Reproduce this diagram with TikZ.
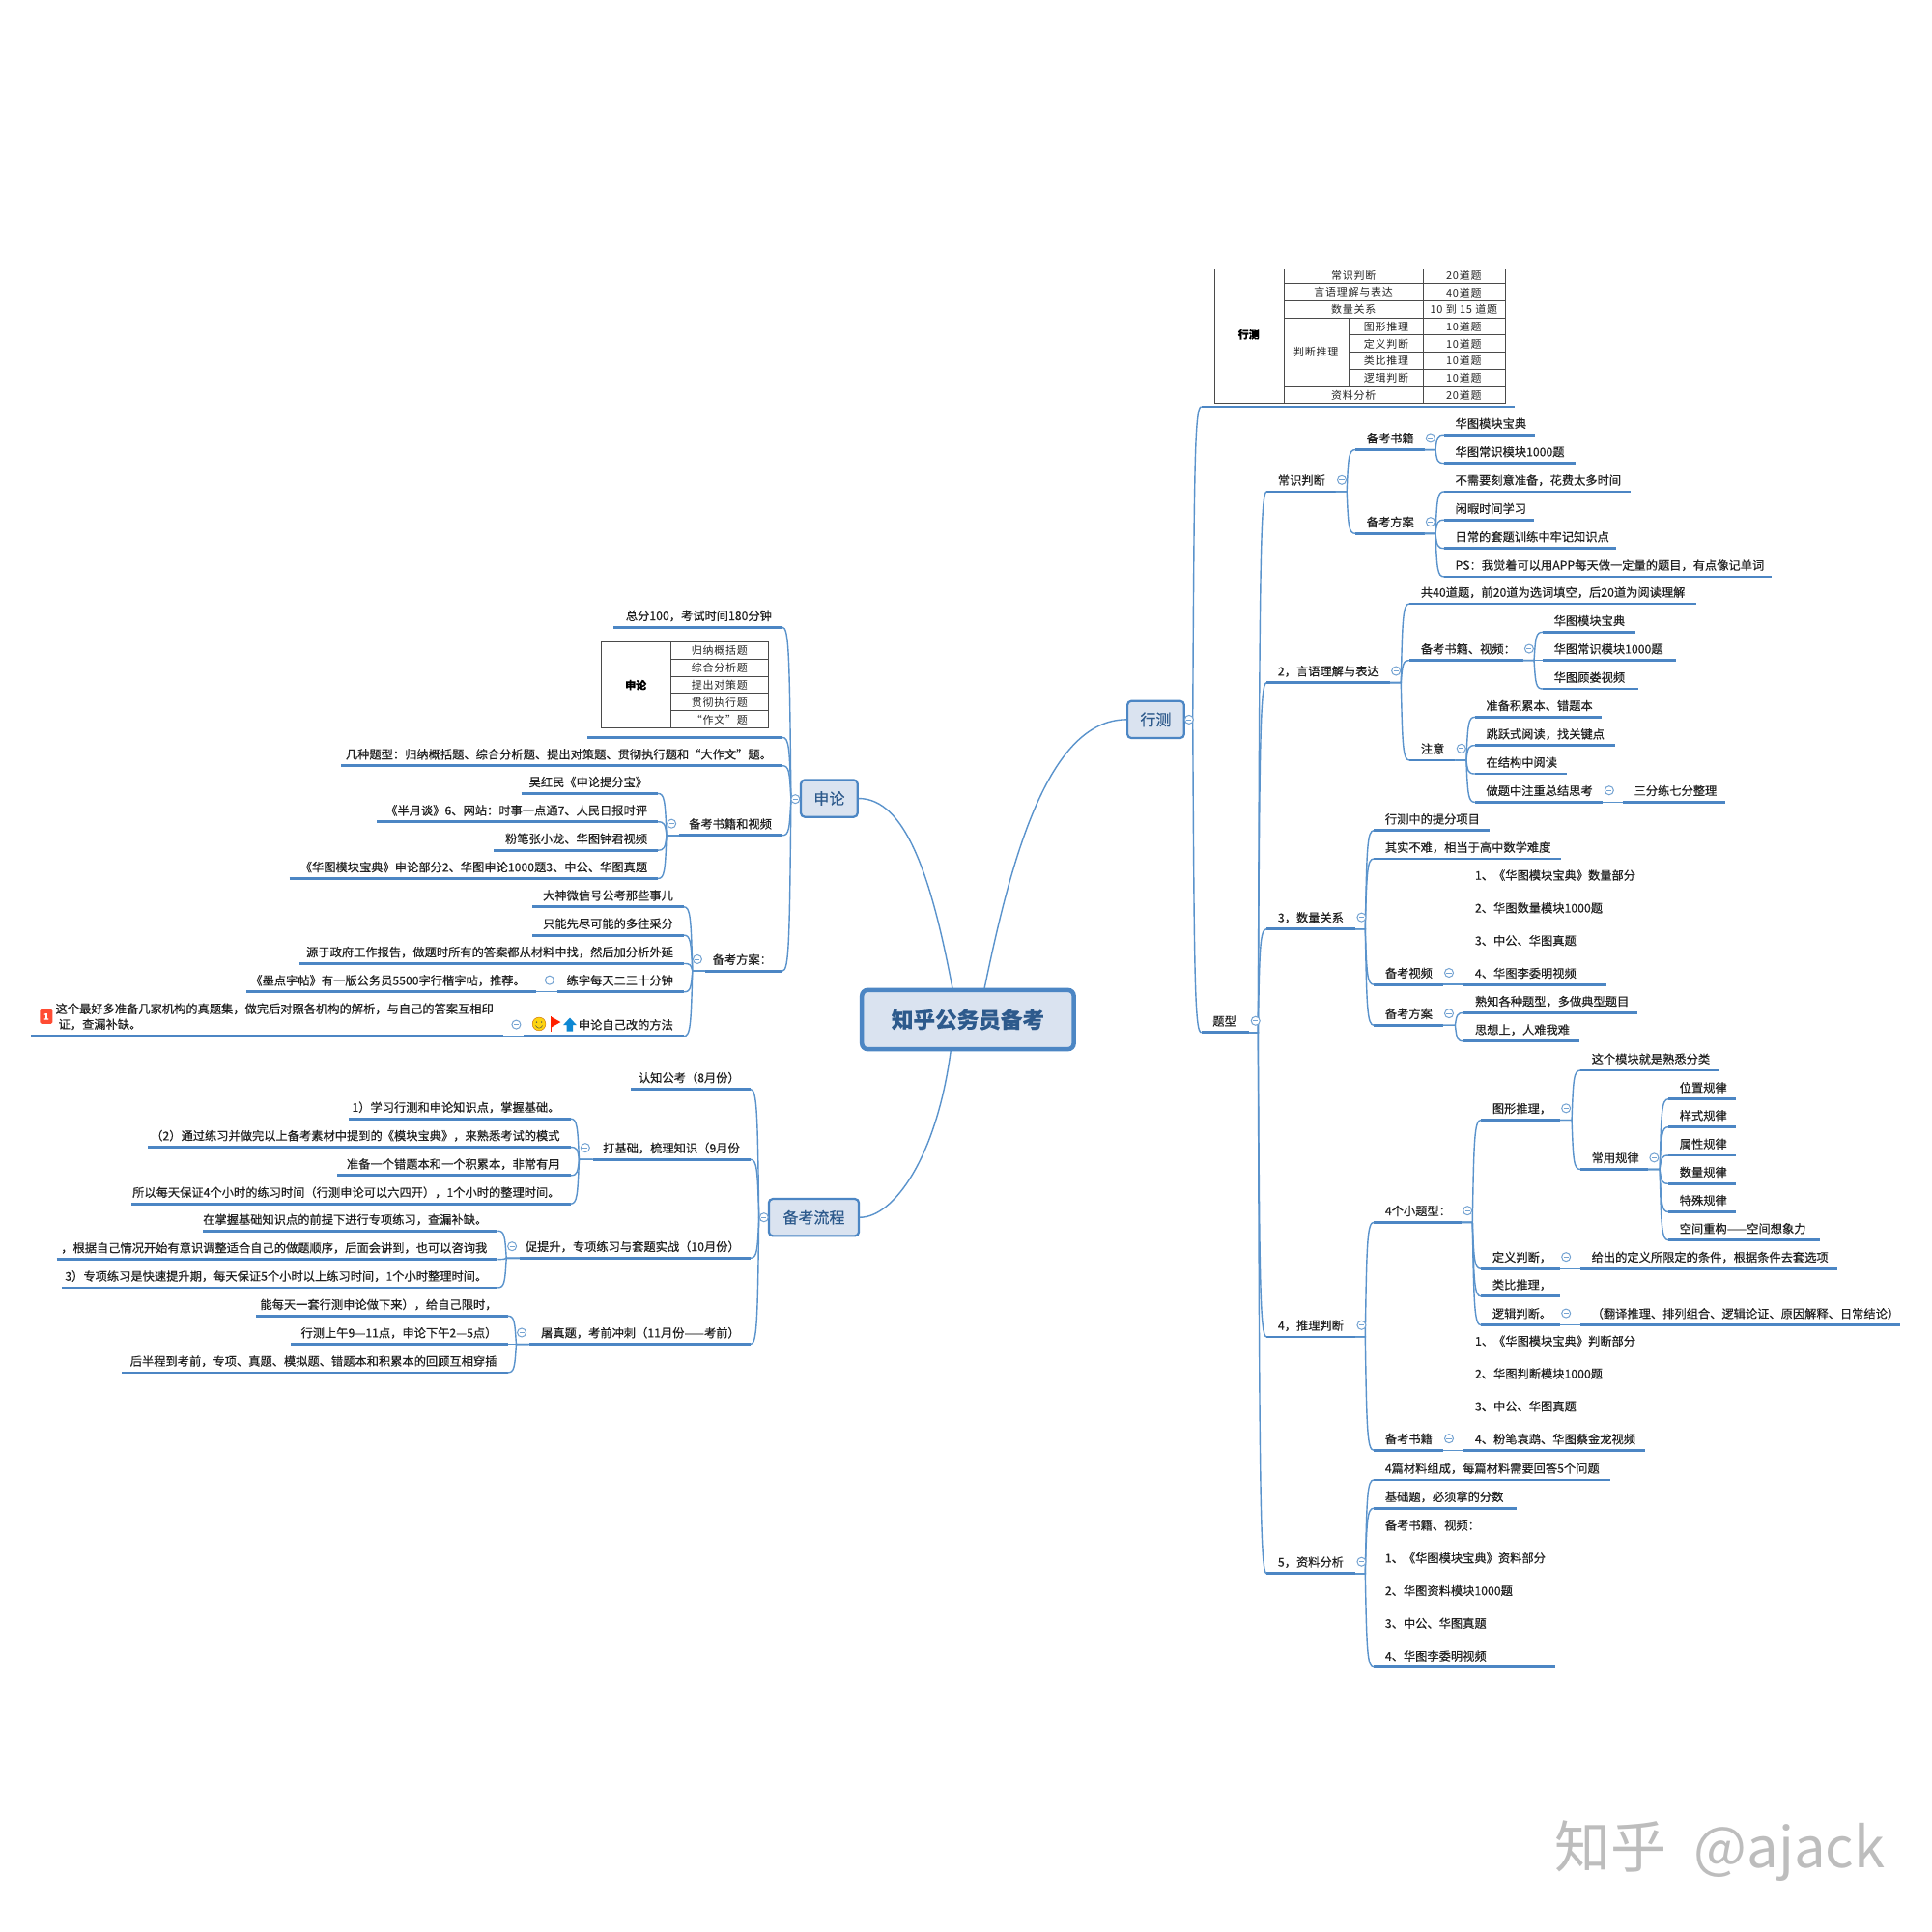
\documentclass[tikz,border=0pt]{standalone}
\usepackage{fontspec}
\setmainfont{Noto Sans CJK SC}[RawFeature={embolden=0.35}]
\newfontfamily\tblfont[LetterSpace=7]{Noto Sans CJK SC}
\newfontfamily\markfont{Noto Sans CJK SC}
\usetikzlibrary{calc}
\definecolor{lineblue}{HTML}{4C86C4}
\definecolor{thinblue}{HTML}{5A93CC}
\definecolor{markblue}{HTML}{74A3D2}
\definecolor{boxfill}{HTML}{DAE3F0}
\definecolor{boxtext}{HTML}{2D5A8C}
\definecolor{inktext}{HTML}{222222}
\definecolor{tblline}{HTML}{4A4A4A}
\definecolor{markgray}{HTML}{BDBDBD}
\tikzset{
  x=1.27551pt,y=-1.27551pt,
  under/.style={draw=lineblue,line width=2.8pt},
  conn/.style={draw=thinblue,line width=1.4pt},
  lbl/.style={inner sep=0pt,text=inktext,font=\fontsize{12.25}{14}\selectfont,text height=10pt,text depth=2.5pt},
  mlbl/.style={inner sep=0pt,text=inktext,font=\fontsize{12.25}{33.8}\selectfont,align=left},
  tcell/.style={inner sep=0pt,text=black!85,font=\tblfont\fontsize{11}{13}\selectfont},
  tbold/.style={inner sep=0pt,text=black,font=\fontsize{11}{13}\selectfont\bfseries},
  tline/.style={draw=tblline,line width=1pt},
  mainbox/.style={draw=lineblue,fill=boxfill,text=boxtext,inner sep=0pt,line width=2.2pt,rounded corners=4pt,font=\fontsize{16}{18}\selectfont},
  rootbox/.style={draw=lineblue,fill=boxfill,text=boxtext,inner sep=0pt,line width=4.5pt,rounded corners=6pt,font=\fontsize{22.6}{26}\selectfont\bfseries},
  collapse/.style={circle,draw=markblue,fill=white,line width=1pt,minimum size=9pt,inner sep=0pt},
}
\newcount\circcnt
\newcommand{\Ut}[4]{\coordinate (#1-a) at (#2,#4);\coordinate (#1-b) at (#3,#4);\draw[under] (#1-a) -- (#1-b);}
\newcommand{\Rt}[5]{\Ut{#1}{#2}{#3}{#4}\node[lbl,anchor=west] (#1) at ({#2+9},{#4-8.6}) {#5};}
\newcommand{\Lt}[5]{\Ut{#1}{#2}{#3}{#4}\node[lbl,anchor=east] (#1) at ({#3-8.5},{#4-8.6}) {#5};}
\newcommand{\Rm}[5]{\Ut{#1}{#2}{#3}{#4}\node[mlbl,anchor=south west] (#1) at ({#2+9},{#4-4.5}) {#5};}
\newcommand{\Cgl}[1]{\global\advance\circcnt by 1
  \node[collapse] (circ\the\circcnt) at (#1) {};
  \draw[markblue,line width=0.8pt] ($(circ\the\circcnt.center)+(-2,0)$) -- ($(circ\the\circcnt.center)+(2,0)$);}
\newcommand{\Cir}[1]{\Cgl{$(#1-b)+(5,-9.5)$}}
\newcommand{\Cil}[1]{\Cgl{$(#1-a)+(-6,-9.5)$}}
\newcommand{\Cr}[2]{\draw[conn] let \p1=(#1-b),\p2=(#2-a) in (\p1) -- (\x2-8.9pt,\y1) .. controls ({\x2-7.4pt},{\y1+0.82*(\y2-\y1)}) and ({\x2-6.9pt},\y2) .. (\p2);}
\newcommand{\Cl}[2]{\draw[conn] let \p1=(#1-a),\p2=(#2-b) in (\p1) -- (\x2+8.9pt,\y1) .. controls ({\x2+7.4pt},{\y1+0.82*(\y2-\y1)}) and ({\x2+6.9pt},\y2) .. (\p2);}
\newcommand{\MBox}[6]{\node[mainbox,minimum width={(#4-#2)*1.27551pt},minimum height={(#5-#3)*1.27551pt}] (#1) at ({(#2+#4)/2},{(#3+#5)/2}) {#6};
  \coordinate (#1-a) at (#1.west);\coordinate (#1-b) at (#1.east);}
\begin{document}
\begin{tikzpicture}
\useasboundingbox (0,0) rectangle (1568,1568);
\fill[white] (0,0) rectangle (1568,1568);

% ---- boxes
\node[rootbox,minimum width={172*1.27551pt},minimum height={48*1.27551pt}] (root) at (785.5,827.5) {知乎公务员备考};
\MBox{xc}{915}{569}{961}{599}{行测}
\MBox{sl}{650}{633}{696}{663}{申论}
\MBox{lc}{624}{973}{697}{1003}{备考流程}
\coordinate (rtA) at (773,802);
\coordinate (rtB) at (799,802);
\coordinate (rtC) at (771.6,853);
\draw[conn] (rtA) .. controls (756,712) and (735,648) .. (sl.east);
\draw[conn] (rtB) .. controls (820,700) and (850,584) .. (xc.west);
\draw[conn] (rtC) .. controls (760,940) and (725,988) .. (lc.east);

% ---- xingce table
\draw[tline] (985.7,218) -- (985.7,327.7) -- (1221.6,327.7) -- (1221.6,218);
\draw[tline] (1042,218) -- (1042,327.7);
\draw[tline] (1155,218) -- (1155,327.7);
\draw[tline] (1094.6,258) -- (1094.6,313.8);
\foreach \yy in {230.4,244.4,258,313.8} {\draw[tline] (1042,\yy) -- (1221.6,\yy);}
\foreach \yy in {272,286,299.7} {\draw[tline] (1094.6,\yy) -- (1221.6,\yy);}
\node[tbold] (tbA) at (1013.5,271.5) {行测};
\node[tcell] (tbB) at (1098.5,224) {常识判断};
\node[tcell] (tbC) at (1098.5,237.4) {言语理解与表达};
\node[tcell] (tbD) at (1098.5,251) {数量关系};
\node[tcell] (tbE) at (1068,286) {判断推理};
\node[tcell] (tbF) at (1125,265) {图形推理};
\node[tcell] (tbG) at (1125,279) {定义判断};
\node[tcell] (tbH) at (1125,293) {类比推理};
\node[tcell] (tbI) at (1125,306.7) {逻辑判断};
\node[tcell] (tbJ) at (1098.5,320.7) {资料分析};
\node[tcell] (tbK) at (1188,224) {20道题};
\node[tcell] (tbL) at (1188,237.4) {40道题};
\node[tcell] (tbM) at (1188,251) {10 到 15 道题};
\node[tcell] (tbN) at (1188,265) {10道题};
\node[tcell] (tbO) at (1188,279) {10道题};
\node[tcell] (tbP) at (1188,293) {10道题};
\node[tcell] (tbQ) at (1188,306.7) {10道题};
\node[tcell] (tbR) at (1188,320.7) {20道题};

% ---- shenlun table
\draw[tline] (488,520.8) rectangle (623.5,591);
\draw[tline] (544.6,520.8) -- (544.6,591);
\foreach \yy in {535,549,562.7,577} {\draw[tline] (544.6,\yy) -- (623.5,\yy);}
\node[tbold] (stA) at (516,556) {申论};
\node[tcell] (stB) at (584,528) {归纳概括题};
\node[tcell] (stC) at (584,542) {综合分析题};
\node[tcell] (stD) at (584,556) {提出对策题};
\node[tcell] (stE) at (584,570) {贯彻执行题};
\node[tcell] (stF) at (584,584) {“作文”题};

% ---- xingce branch
\Ut{tb}{975}{1229}{330}
\Rt{tx}{975}{1014}{838}{题型}
\Rt{aA}{1028}{1084}{399}{常识判断}
\Rt{aAa}{1100}{1156}{365}{备考书籍}
\Rt{aAb}{1100}{1156}{433}{备考方案}
\Rt{aAa1}{1172}{1246}{353}{华图模块宝典}
\Rt{aAa2}{1172}{1279}{376}{华图常识模块1000题}
\Rt{aAb1}{1172}{1323}{399}{不需要刻意准备，花费太多时间}
\Rt{aAb2}{1172}{1245}{422}{闲暇时间学习}
\Rt{aAb3}{1172}{1312}{445}{日常的套题训练中牢记知识点}
\Rt{aAb4}{1172}{1438}{468}{PS：我觉着可以用APP每天做一定量的题目，有点像记单词}

\Rt{aB}{1028}{1128}{554}{2，言语理解与表达}
\Rt{aBa}{1144}{1377}{490}{共40道题，前20道为选词填空，后20道为阅读理解}
\Rt{aBb}{1144}{1236}{536}{备考书籍、视频：}
\Rt{aBc}{1144}{1181}{617}{注意}
\Rt{aBb1}{1252}{1327}{513}{华图模块宝典}
\Rt{aBb2}{1252}{1360}{536}{华图常识模块1000题}
\Rt{aBb3}{1252}{1330}{559}{华图顾娄视频}
\Rt{aBc1}{1197}{1300}{582}{准备积累本、错题本}
\Rt{aBc2}{1197}{1311}{605}{跳跃式阅读，找关键点}
\Rt{aBc3}{1197}{1272}{628}{在结构中阅读}
\Rt{aBc4}{1197}{1301}{651}{做题中注重总结思考}
\Rt{aBc5}{1317}{1400}{651}{三分练七分整理}

\Rt{aC}{1028}{1100}{754}{3，数量关系}
\Rt{aCa}{1115}{1209}{674}{行测中的提分项目}
\Rt{aCb}{1115}{1267}{697}{其实不难，相当于高中数学难度}
\Rt{aCc}{1115}{1171}{799}{备考视频}
\Rm{aCc1}{1188}{1304}{799}{1、《华图模块宝典》数量部分\\2、华图数量模块1000题\\3、中公、华图真题\\4、华图李委明视频}
\Rt{aCd}{1115}{1171}{832}{备考方案}
\Rt{aCd1}{1188}{1329}{822}{熟知各种题型，多做典型题目}
\Rt{aCd2}{1188}{1282}{845}{思想上，人难我难}

\Rt{aD}{1028}{1100}{1085}{4，推理判断}
\Rt{aDa}{1115}{1186}{992}{4个小题型：}
\Rt{aDb}{1115}{1171}{1177}{备考书籍}
\Rm{aDb1}{1188}{1335}{1177}{1、《华图模块宝典》判断部分\\2、华图判断模块1000题\\3、中公、华图真题\\4、粉笔袁鹉、华图蔡金龙视频}
\Rt{aDa1}{1202}{1266}{909}{图形推理，}
\Rt{aDa2}{1202}{1266}{1029.6}{定义判断，}
\Rt{aDa3}{1202}{1266}{1052}{类比推理，}
\Rt{aDa4}{1202}{1266}{1075.4}{逻辑判断。}
\Rt{aDp1}{1282.6}{1395.5}{868.7}{这个模块就是熟悉分类}
\Rt{aDp2}{1282.6}{1337.5}{949}{常用规律}
\Rt{aDr1}{1354}{1409}{892}{位置规律}
\Rt{aDr2}{1354}{1409}{914.7}{样式规律}
\Rt{aDr3}{1354}{1409}{937.7}{属性规律}
\Rt{aDr4}{1354}{1409}{960.6}{数量规律}
\Rt{aDr5}{1354}{1409}{983.5}{特殊规律}
\Rt{aDr6}{1354}{1477}{1006.4}{空间重构——空间想象力}
\Rt{aDq}{1282.6}{1491}{1029.6}{给出的定义所限定的条件，根据条件去套选项}
\Rt{aDs}{1282.6}{1542}{1075.4}{（翻译推理、排列组合、逻辑论证、原因解释、日常结论）}

\Rt{aE}{1028}{1100}{1277}{5，资料分析}
\Rt{aEa}{1115}{1307}{1201}{4篇材料组成，每篇材料需要回答5个问题}
\Rt{aEb}{1115}{1231}{1224}{基础题，必须拿的分数}
\Rm{aEc}{1115}{1262}{1353}{备考书籍、视频：\\1、《华图模块宝典》资料部分\\2、华图资料模块1000题\\3、中公、华图真题\\4、华图李委明视频}

% ---- shenlun branch
\Lt{bA}{498}{635}{509}{总分100，考试时间180分钟}
\Ut{bT}{477}{635}{598.5}
\Lt{bB}{277}{635}{621.5}{几种题型：归纳概括题、综合分析题、提出对策题、贯彻执行题和“大作文”题。}
\Lt{bC}{551}{635}{678}{备考书籍和视频}
\Lt{bC1}{423}{534}{644}{吴红民《申论提分宝》}
\Lt{bC2}{306}{534}{667}{《半月谈》6、网站：时事一点通7、人民日报时评}
\Lt{bC3}{401}{534}{690}{粉笔张小龙、华图钟君视频}
\Lt{bC4}{235}{534}{713}{《华图模块宝典》申论部分2、华图申论1000题3、中公、华图真题}
\Lt{bD}{572}{635}{788}{备考方案：}
\Lt{bD1}{432}{555}{736}{大神微信号公考那些事儿}
\Lt{bD2}{432}{555}{759}{只能先尽可能的多往采分}
\Lt{bD3}{243}{555}{782}{源于政府工作报告，做题时所有的答案都从材料中找，然后加分析外延}
\Lt{bD4}{452}{555}{805}{练字每天二三十分钟}
\Lt{bD4a}{200}{435}{805}{《墨点字帖》有一版公务员5500字行楷字帖，推荐。}
\Lt{bD5}{425}{555}{841}{申论自己改的方法}
\Ut{bD5a}{25}{408.5}{841}
\node[mlbl,font=\fontsize{12.25}{16}\selectfont,anchor=west] (bD5t) at (45,825) {这个最好多准备几家机构的真题集，做完后对照各机构的解析，与自己的答案互相印\\\hspace*{3pt}证，查漏补缺。};
\node[fill=red!75!orange!80,rounded corners=1.5pt,text=white,inner sep=0pt,minimum width=13pt,minimum height=15pt,font=\fontsize{9}{10}\selectfont\bfseries] (bdg) at (37.5,825) {1};
% icons
\fill[yellow!70!orange!95] (437.5,831) circle (5.4);
\draw[orange!80!black,line width=0.4pt] (437.5,831) circle (5.4);
\fill[black!70] (435.5,829.5) circle (0.6) (439.5,829.5) circle (0.6);
\draw[black!70,line width=0.5pt] (434.7,832.2) .. controls (436,835) and (439,835) .. (440.3,832.2);
\fill[red!75!orange] (447,825) -- (455,829.5) -- (447,834) -- cycle;
\draw[red!75!orange,line width=1pt] (447,825) -- (447,837);
\fill[cyan!70!blue] (462.5,826) -- (468,832) -- (465,832) -- (465,837) -- (460,837) -- (460,832) -- (457,832) -- cycle;

% ---- process branch
\Lt{cA}{512}{609}{884}{认知公考（8月份）}
\Lt{cB}{481}{609}{941}{打基础，梳理知识（9月份}
\Lt{cB1}{283}{463}{908}{1）学习行测和申论知识点，掌握基础。}
\Lt{cB2}{120}{463}{931}{（2）通过练习并做完以上备考素材中提到的《模块宝典》，来熟悉考试的模式}
\Lt{cB3}{274}{463}{954}{准备一个错题本和一个积累本，非常有用}
\Lt{cB4}{107}{463}{977}{所以每天保证4个小时的练习时间（行测申论可以六四开），1个小时的整理时间。}
\Lt{cC}{421.6}{609}{1021}{促提升，专项练习与套题实战（10月份）}
\Lt{cC1}{165}{404}{999}{在掌握基础知识点的前提下进行专项练习，查漏补缺。}
\Lt{cC2}{46}{404}{1022}{，根据自己情况开始有意识调整适合自己的做题顺序，后面会讲到，也可以咨询我}
\Lt{cC3}{50}{404}{1045}{3）专项练习是快速提升期，每天保证5个小时以上练习时间，1个小时整理时间。}
\Lt{cD}{429.4}{609}{1091}{屠真题，考前冲刺（11月份——考前）}
\Lt{cD1}{208}{412}{1068}{能每天一套行测申论做下来），给自己限时，}
\Lt{cD2}{236}{412}{1091}{行测上午9—11点，申论下午2—5点）}
\Lt{cD3}{99}{412}{1114}{后半程到考前，专项、真题、模拟题、错题本和积累本的回顾互相穿插}

% ---- connectors right
\Cr{xc}{tb}\Cr{xc}{tx}
\Cr{tx}{aA}\Cr{tx}{aB}\Cr{tx}{aC}\Cr{tx}{aD}\Cr{tx}{aE}
\Cr{aA}{aAa}\Cr{aA}{aAb}
\Cr{aAa}{aAa1}\Cr{aAa}{aAa2}
\Cr{aAb}{aAb1}\Cr{aAb}{aAb2}\Cr{aAb}{aAb3}\Cr{aAb}{aAb4}
\Cr{aB}{aBa}\Cr{aB}{aBb}\Cr{aB}{aBc}
\Cr{aBb}{aBb1}\Cr{aBb}{aBb2}\Cr{aBb}{aBb3}
\Cr{aBc}{aBc1}\Cr{aBc}{aBc2}\Cr{aBc}{aBc3}\Cr{aBc}{aBc4}\Cr{aBc4}{aBc5}
\Cr{aC}{aCa}\Cr{aC}{aCb}\Cr{aC}{aCc}\Cr{aC}{aCd}
\Cr{aCc}{aCc1}\Cr{aCd}{aCd1}\Cr{aCd}{aCd2}
\Cr{aD}{aDa}\Cr{aD}{aDb}\Cr{aDb}{aDb1}
\Cr{aDa}{aDa1}\Cr{aDa}{aDa2}\Cr{aDa}{aDa3}\Cr{aDa}{aDa4}
\Cr{aDa1}{aDp1}\Cr{aDa1}{aDp2}
\Cr{aDp2}{aDr1}\Cr{aDp2}{aDr2}\Cr{aDp2}{aDr3}\Cr{aDp2}{aDr4}\Cr{aDp2}{aDr5}\Cr{aDp2}{aDr6}
\Cr{aDa2}{aDq}\Cr{aDa4}{aDs}
\Cr{aE}{aEa}\Cr{aE}{aEb}\Cr{aE}{aEc}
% ---- connectors left
\Cl{sl}{bA}\Cl{sl}{bT}\Cl{sl}{bB}\Cl{sl}{bC}\Cl{sl}{bD}
\Cl{bC}{bC1}\Cl{bC}{bC2}\Cl{bC}{bC3}\Cl{bC}{bC4}
\Cl{bD}{bD1}\Cl{bD}{bD2}\Cl{bD}{bD3}\Cl{bD}{bD4}\Cl{bD}{bD5}
\Cl{bD4}{bD4a}\Cl{bD5}{bD5a}
\Cl{lc}{cA}\Cl{lc}{cB}\Cl{lc}{cC}\Cl{lc}{cD}
\Cl{cB}{cB1}\Cl{cB}{cB2}\Cl{cB}{cB3}\Cl{cB}{cB4}
\Cl{cC}{cC1}\Cl{cC}{cC2}\Cl{cC}{cC3}
\Cl{cD}{cD1}\Cl{cD}{cD2}\Cl{cD}{cD3}

% ---- collapse marks
\Cgl{965,584}\Cgl{645.5,648.5}\Cgl{620,988}
\Cir{tx}\Cir{aA}\Cir{aAa}\Cir{aAb}\Cir{aB}\Cir{aBb}\Cir{aBc}\Cir{aBc4}
\Cir{aC}\Cir{aCc}\Cir{aCd}\Cir{aD}\Cir{aDa}\Cir{aDb}\Cir{aDa1}\Cir{aDp2}\Cir{aDa2}\Cir{aDa4}\Cir{aE}
\Cil{bC}\Cil{bD}\Cil{bD4}\Cil{bD5}\Cil{cB}\Cil{cC}\Cil{cD}

% ---- watermark
\node[inner sep=0pt,anchor=west,text=markgray,font=\markfont\fontsize{58}{60}\selectfont] (wm) at (1262,1502) {知乎\hspace{15pt} @ajack};
\end{tikzpicture}
\end{document}
